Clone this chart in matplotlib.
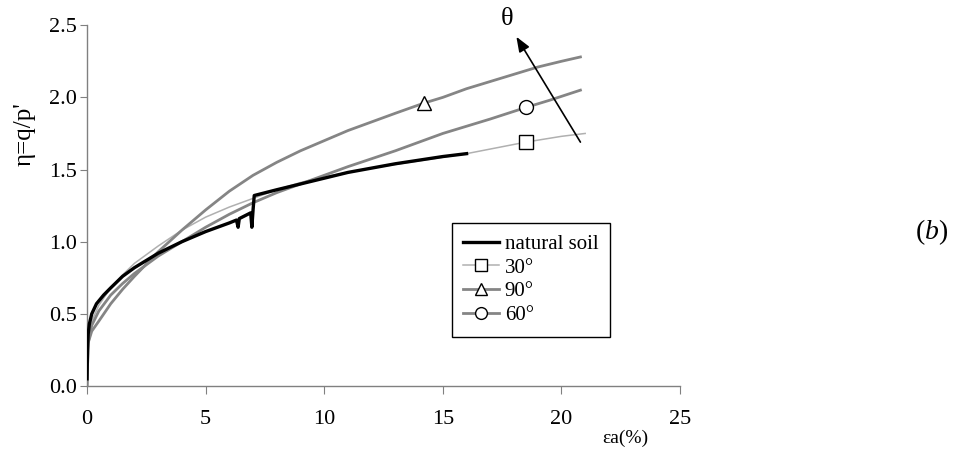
import matplotlib
matplotlib.use("Agg")
import matplotlib.pyplot as plt

plt.rcParams['font.family'] = ['Liberation Serif', 'DejaVu Serif']
plt.rcParams['mathtext.fontset'] = 'custom'
plt.rcParams['mathtext.rm'] = 'Liberation Serif'
plt.rcParams['mathtext.it'] = 'Liberation Serif:italic'

# values (strain %, stress ratio)
soil_x = [0.0, 0.02, 0.05, 0.1, 0.2, 0.4, 0.7, 1.0, 1.5, 2.0, 3.0, 4.0, 5.0, 6.0, 6.3, 6.37,
          6.42, 6.9, 6.95, 7.0, 7.05, 8.0, 9.0, 10.0, 11.0, 12.0, 13.0, 14.0, 15.0, 16.0]
soil_y = [0.05, 0.25, 0.36, 0.43, 0.50, 0.57, 0.63, 0.68, 0.76, 0.82, 0.92, 1.0, 1.07, 1.13,
          1.15, 1.10, 1.16, 1.20, 1.10, 1.22, 1.32, 1.36, 1.40, 1.44, 1.48, 1.51, 1.54, 1.565,
          1.59, 1.61]

t30_x = [0.0, 0.05, 0.2, 0.5, 1.0, 1.5, 2.0, 3.0, 4.0, 5.0, 6.0, 7.0, 8.0, 9.0, 10.0,
         12.0, 14.0, 16.0, 18.5, 20.0, 21.0]
t30_y = [0.2, 0.35, 0.45, 0.56, 0.68, 0.77, 0.85, 0.97, 1.08, 1.17, 1.24, 1.30, 1.36, 1.41,
         1.45, 1.51, 1.56, 1.61, 1.69, 1.73, 1.75]

t90_x = [0.0, 0.05, 0.2, 0.5, 1.0, 1.5, 2.0, 3.0, 4.0, 5.0, 6.0, 7.0, 8.0, 9.0, 10.0,
         11.0, 12.0, 13.0, 14.2, 15.0, 16.0, 17.0, 18.0, 19.0, 20.0, 20.8]
t90_y = [0.0, 0.30, 0.38, 0.45, 0.57, 0.67, 0.76, 0.93, 1.08, 1.22, 1.35, 1.46, 1.55, 1.63,
         1.70, 1.77, 1.83, 1.89, 1.96, 2.00, 2.06, 2.11, 2.16, 2.21, 2.25, 2.28]

t60_x = [0.0, 0.05, 0.2, 0.5, 1.0, 1.5, 2.0, 3.0, 4.0, 5.0, 6.0, 7.0, 8.0, 9.0, 10.0,
         11.0, 12.0, 13.0, 14.0, 15.0, 16.0, 17.0, 18.5, 19.5, 20.8]
t60_y = [0.0, 0.30, 0.42, 0.52, 0.63, 0.71, 0.78, 0.90, 1.00, 1.10, 1.19, 1.27, 1.34, 1.40,
         1.46, 1.52, 1.575, 1.63, 1.69, 1.75, 1.80, 1.85, 1.93, 1.98, 2.05]

marker_idx = {"30": 18, "90": 18, "60": 22}

fig = plt.figure(figsize=(9.55, 4.55), dpi=100)
ax = fig.add_axes([0.0911, 0.1516, 0.621, 0.793])

mk = dict(markersize=10, markerfacecolor="white", markeredgecolor="black", markeredgewidth=1)
ax.plot(soil_x, soil_y, color="black", lw=2.4, label="natural soil", zorder=3)
ax.plot(t30_x, t30_y, color="#b0b0b0", lw=1.1, marker="s", markevery=[marker_idx["30"]],
        label="30°", **mk)
ax.plot(t90_x, t90_y, color="#858585", lw=2.0, marker="^", markevery=[marker_idx["90"]],
        label="90°", **mk)
ax.plot(t60_x, t60_y, color="#858585", lw=2.0, marker="o", markevery=[marker_idx["60"]],
        label="60°", **mk)

ax.set_xlim(0, 25)
ax.set_ylim(0, 2.5)
ax.set_xticks([0, 5, 10, 15, 20, 25])
ax.set_yticks([0.0, 0.5, 1.0, 1.5, 2.0, 2.5])
ax.set_yticklabels(["0.0", "0.5", "1.0", "1.5", "2.0", "2.5"])
for s in ["top", "right"]:
    ax.spines[s].set_visible(False)
for s in ["left", "bottom"]:
    ax.spines[s].set_color("#808080")
    ax.spines[s].set_linewidth(1)
ax.tick_params(axis="y", direction="out", length=5, color="#808080", labelsize=16, pad=2)
ax.tick_params(axis="x", direction="out", length=6, color="#808080", labelsize=16, pad=11)

# arrow showing increasing theta
ax.annotate("", xy=(18.1, 2.42), xytext=(20.8, 1.69),
            arrowprops=dict(arrowstyle="-|>,head_length=0.9,head_width=0.35",
                            color="black", lw=1.2, shrinkA=0, shrinkB=0),
            annotation_clip=False)
ax.text(17.7, 2.54, "θ", fontsize=19, ha="center", va="center", clip_on=False)

leg = ax.legend(loc="upper left", bbox_to_anchor=(0.473, 0.510), bbox_transform=fig.transFigure,
                fontsize=15, frameon=True, fancybox=False, edgecolor="black", framealpha=1,
                handlelength=1.7, handletextpad=0.3, labelspacing=0.2, borderpad=0.55,
                borderaxespad=0, markerscale=0.85)
leg.get_frame().set_linewidth(1)

fig.text(25 / 955, 1 - 134 / 455, "η=q/p'", rotation=90, fontsize=18,
         ha="center", va="center")
fig.text(625 / 955, 1 - 438 / 455, "εa(%)", fontsize=14, ha="center", va="center")
fig.text(932 / 955, 1 - 232 / 455, "$(b)$", fontsize=20, ha="center", va="center")

fig.savefig("out.png", dpi=100)
